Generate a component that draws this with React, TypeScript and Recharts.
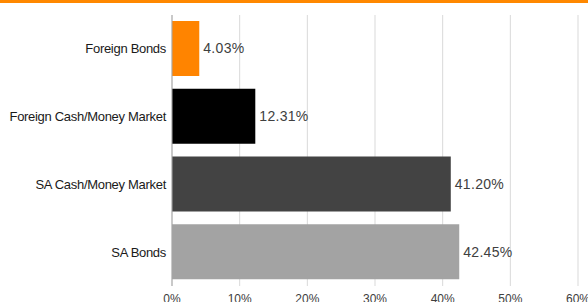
import React from "react";
import { BarChart, Bar, XAxis, YAxis, CartesianGrid, LabelList, Cell } from "recharts";

const categories = ["Foreign Bonds", "Foreign Cash/Money Market", "SA Cash/Money Market", "SA Bonds"];
const allocation = [4.03, 12.31, 41.2, 42.45];
const xTicks = [0, 10, 20, 30, 40, 50, 60];

const barColors = ["#FF8400", "#000000", "#434343", "#A3A3A3"];

const data = categories.map((name, i) => ({ name, value: allocation[i] }));

const CategoryTick = (props: any) => {
  const { x, y, payload } = props;
  return (
    <text
      x={x}
      y={y}
      dy="0.355em"
      textAnchor="end"
      fontSize={13}
      fill="#1a1a1a"
      letterSpacing={-0.3}
      fontFamily="'Liberation Sans', Arial, sans-serif"
    >
      {payload.value}
    </text>
  );
};

export default function App() {
  return (
    <div style={{ position: "fixed", left: 0, top: 0, width: 588, height: 302, background: "#fff", overflow: "hidden" }}>
      <div style={{ position: "absolute", left: 0, top: 0, width: 588, height: 3, background: "#FF8800", zIndex: 2 }} />
      <BarChart
        width={588}
        height={302}
        data={data}
        layout="vertical"
        margin={{ top: 15, right: 10, bottom: 0, left: 0 }}
        barSize={55}
        style={{ fontFamily: "'Liberation Sans', Arial, sans-serif" }}
      >
        <CartesianGrid horizontal={false} vertical={true} stroke="#d9d9d9" />
        <XAxis
          type="number"
          domain={[0, 60]}
          ticks={xTicks}
          tickFormatter={(v: number) => `${v}%`}
          axisLine={false}
          tickLine={false}
          height={16}
          tick={{ fontSize: 12, fill: "#404040" }}
          interval={0}
        />
        <YAxis
          type="category"
          dataKey="name"
          width={172}
          axisLine={{ stroke: "#a6a6a6" }}
          tickLine={false}
          tickMargin={0}
          tick={<CategoryTick />}
          interval={0}
        />
        <Bar dataKey="value" isAnimationActive={false}>
          {data.map((d, i) => (
            <Cell key={d.name} fill={barColors[i]} />
          ))}
          <LabelList
            dataKey="value"
            position="right"
            offset={4}
            formatter={(v: number) => `${v.toFixed(2)}%`}
            style={{ fontSize: 14, fill: "#404040", letterSpacing: 0.3 }}
          />
        </Bar>
      </BarChart>
    </div>
  );
}
